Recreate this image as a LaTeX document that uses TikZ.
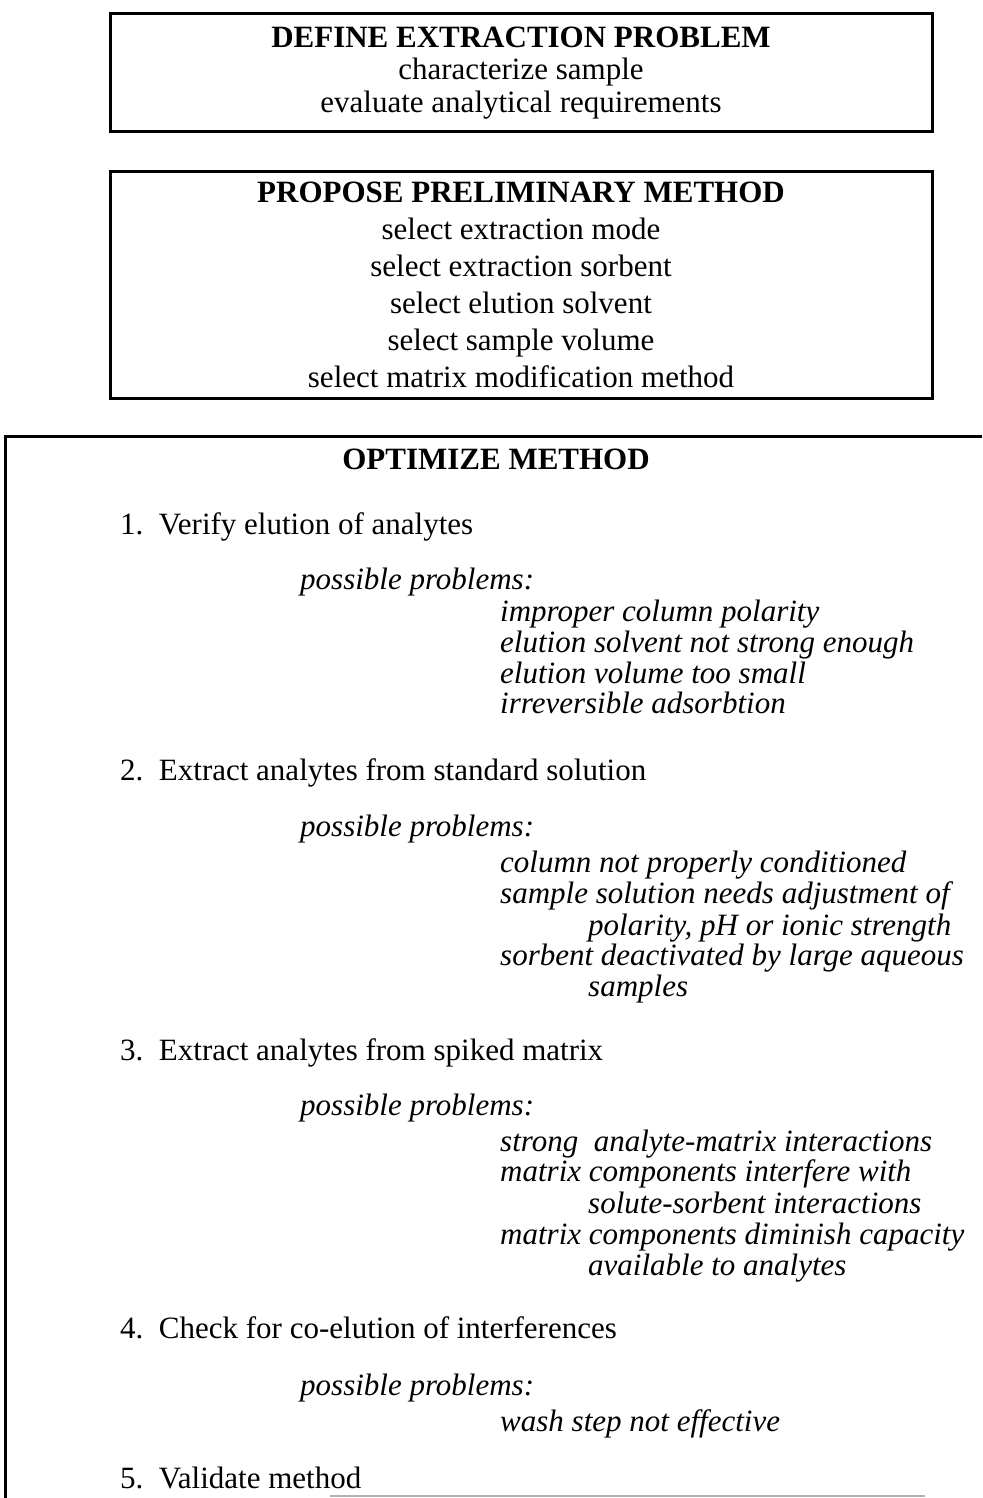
\documentclass[tikz,border=0pt]{standalone}
\usepackage{fontspec}
\setmainfont{Liberation Serif}
\usepackage{tikz}
\usetikzlibrary{positioning}

\tikzset{
  stagebox/.style={draw=black,line width=3pt,minimum width=822pt,align=center,inner sep=0pt},
  steptext/.style={anchor=base west,inner sep=0pt,font=\fontsize{31}{37}\selectfont},
  probhead/.style={anchor=base west,inner sep=0pt,font=\fontsize{31}{36}\selectfont\itshape},
  probitem/.style={anchor=base west,inner sep=0pt,font=\fontsize{31}{36}\selectfont\itshape}
}

\begin{document}
\begin{tikzpicture}[x=1pt,y=-1pt]
\useasboundingbox (0,0) rectangle (982,1498);
% upper stages
\node[stagebox,minimum height=118pt,font=\fontsize{31}{32.5}\selectfont] (def_box) at (521,73) {\textbf{DEFINE EXTRACTION PROBLEM}\\characterize sample\\evaluate analytical requirements};
\node[stagebox,minimum height=226pt,font=\fontsize{31}{37}\selectfont] (prop_box) at (521,285) {\textbf{PROPOSE PRELIMINARY METHOD}\\select extraction mode\\select extraction sorbent\\select elution solvent\\select sample volume\\select matrix modification method};
% optimize frame (runs off the page)
\draw[line width=3pt] (982,436) -| (5,1498);
\node[anchor=base,inner sep=0pt,font=\fontsize{31}{37}\selectfont\bfseries] (opt_title) at (496,469) {OPTIMIZE METHOD};
% step 1
\node[steptext] (s1) at (120,534) {1.\ \ Verify elution of analytes};
\node[probhead] (pp1) at (300,589) {possible problems:};
\node[probitem] (p1a) at (500,621) {improper column polarity};
\node[probitem] (p1b) at (500,652) {elution solvent not strong enough};
\node[probitem] (p1c) at (500,683) {elution volume too small};
\node[probitem] (p1d) at (500,713) {irreversible adsorbtion};
% step 2
\node[steptext] (s2) at (120,780) {2.\ \ Extract analytes from standard solution};
\node[probhead] (pp2) at (300,836) {possible problems:};
\node[probitem] (p2a) at (500,872) {column not properly conditioned};
\node[probitem] (p2b) at (500,903) {sample solution needs adjustment of};
\node[probitem] (p2c) at (588,935) {polarity, pH or ionic strength};
\node[probitem] (p2d) at (500,965) {sorbent deactivated by large aqueous};
\node[probitem] (p2e) at (588,996) {samples};
% step 3
\node[steptext] (s3) at (120,1060) {3.\ \ Extract analytes from spiked matrix};
\node[probhead] (pp3) at (300,1115) {possible problems:};
\node[probitem] (p3a) at (500,1151) {strong\ \ analyte-matrix interactions};
\node[probitem] (p3b) at (500,1181) {matrix components interfere with};
\node[probitem] (p3c) at (588,1213) {solute-sorbent interactions};
\node[probitem] (p3d) at (500,1244) {matrix components diminish capacity};
\node[probitem] (p3e) at (588,1275) {available to analytes};
% step 4
\node[steptext] (s4) at (120,1338) {4.\ \ Check for co-elution of interferences};
\node[probhead] (pp4) at (300,1395) {possible problems:};
\node[probitem] (p4a) at (500,1431) {wash step not effective};
% step 5
\node[steptext] (s5) at (120,1488) {5.\ \ Validate method};
\draw[gray!60,line width=2pt] (330,1496) -- (925,1496);
\end{tikzpicture}
\end{document}
